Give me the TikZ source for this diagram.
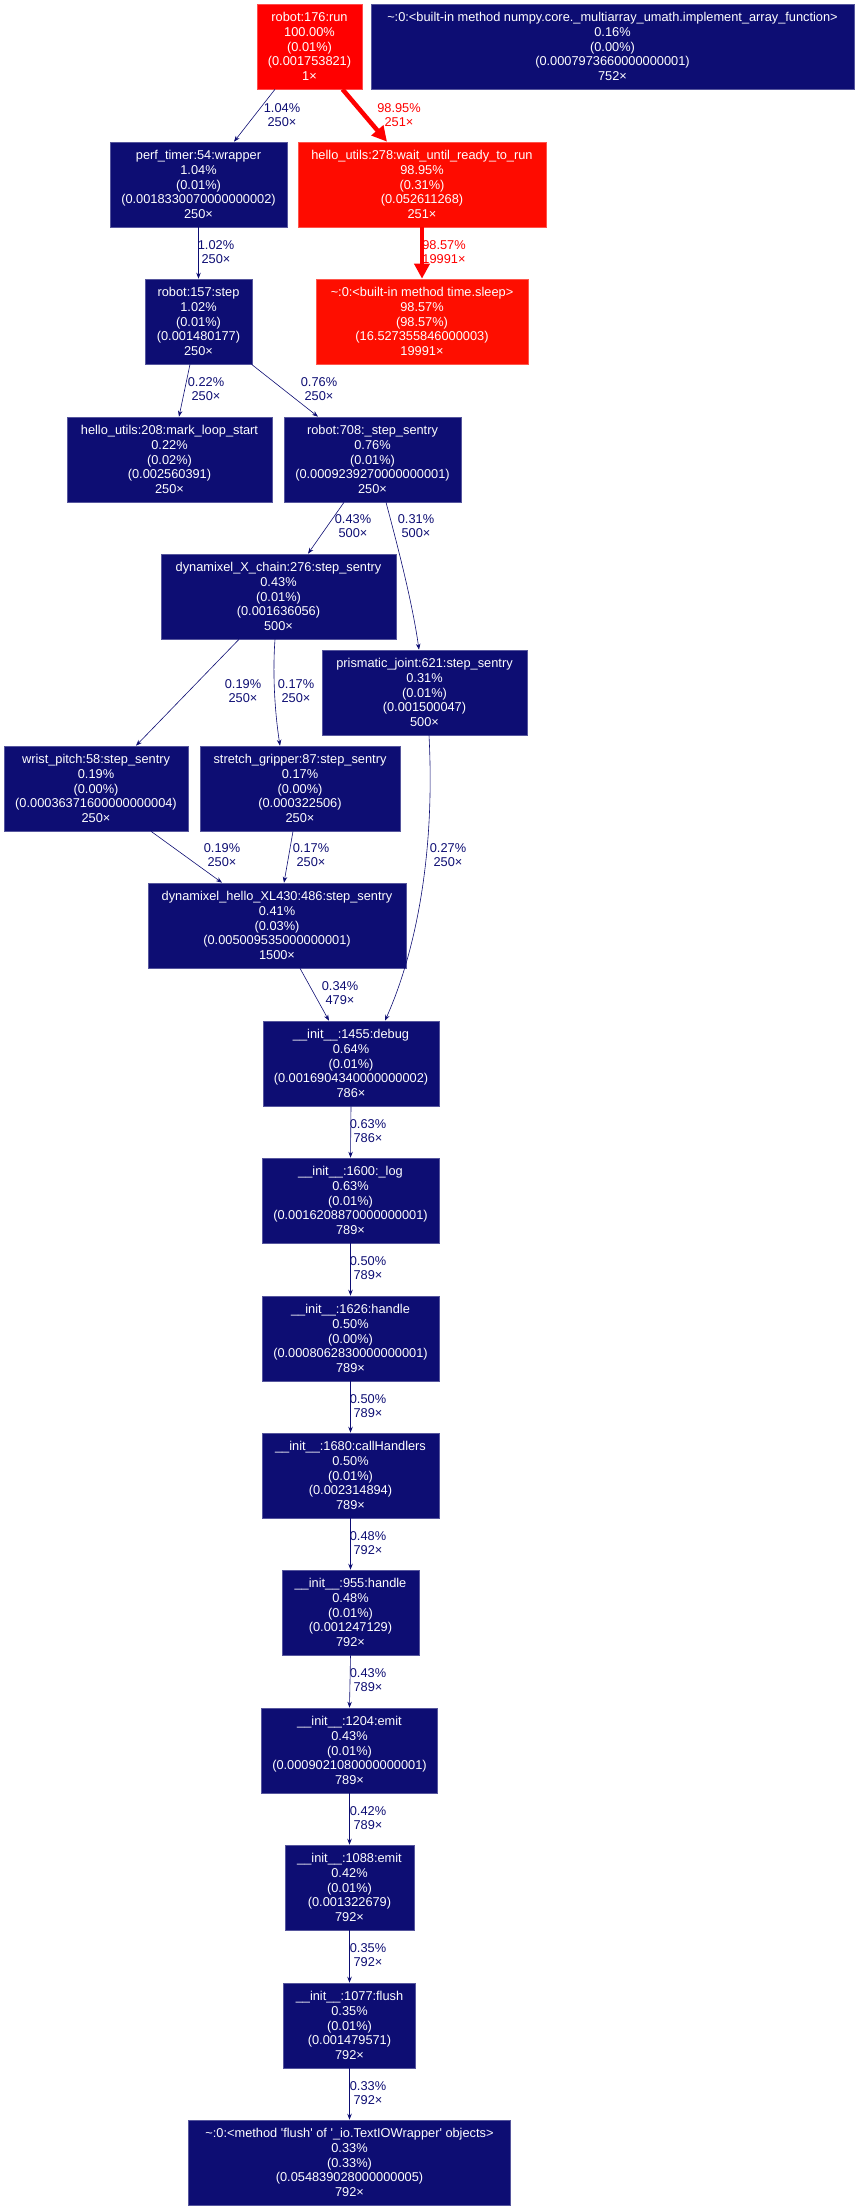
\documentclass[tikz,border=0pt]{standalone}
\usepackage{fontspec}
\setmainfont{Liberation Sans}
\usetikzlibrary{arrows.meta}
\definecolor{navy}{HTML}{0D0D73}
\definecolor{hotA}{HTML}{FF0000}
\definecolor{hotB}{HTML}{FE0B00}
\definecolor{hotC}{HTML}{FE0E00}
\newcommand{\nfont}{\fontsize{12.8}{14.6}\selectfont}
\tikzset{
  fn/.style={rectangle, fill=navy, draw=navy!70!white, line width=0.6pt, text=white,
    align=center, inner sep=0pt, minimum height=85pt, font=\nfont},
  lo/.style={draw=navy, line width=0.6pt, -{Stealth[length=6pt,width=4.5pt]}},
  hi/.style={draw=hotA, line width=4.5pt, -{Triangle[length=15pt,width=15pt]}},
  elab/.style={text=navy, align=center, font=\nfont, inner sep=0pt},
  elabhot/.style={elab, text=hotA},
}
\begin{document}
\begin{tikzpicture}[x=1pt, y=-1pt]
\useasboundingbox (0,0) rectangle (858,2209);
% nodes
\node[fn, minimum width=105pt, fill=hotA, draw=hotA!70!white] (run) at (309.5,46.5)
  {robot:176:run\\100.00\%\\(0.01\%)\\(0.001753821)\\1×};
\node[fn, minimum width=483pt] (numpy) at (612.5,46.5)
  {\textasciitilde:0:<built-in method numpy.core.\_multiarray\_umath.implement\_array\_function>\\0.16\%\\(0.00\%)\\(0.0007973660000000001)\\752×};
\node[fn, minimum width=177pt] (perf) at (198.5,184.5)
  {perf\_timer:54:wrapper\\1.04\%\\(0.01\%)\\(0.0018330070000000002)\\250×};
\node[fn, minimum width=248pt, fill=hotB, draw=hotB!70!white] (h278) at (422,184.5)
  {hello\_utils:278:wait\_until\_ready\_to\_run\\98.95\%\\(0.31\%)\\(0.052611268)\\251×};
\node[fn, minimum width=107pt] (r157) at (198.5,321.5)
  {robot:157:step\\1.02\%\\(0.01\%)\\(0.001480177)\\250×};
\node[fn, minimum width=212pt, fill=hotC, draw=hotC!70!white] (sleep) at (422,321.5)
  {\textasciitilde:0:<built-in method time.sleep>\\98.57\%\\(98.57\%)\\(16.527355846000003)\\19991×};
\node[fn, minimum width=205pt] (h208) at (169.5,459.5)
  {hello\_utils:208:mark\_loop\_start\\0.22\%\\(0.02\%)\\(0.002560391)\\250×};
\node[fn, minimum width=177pt] (r708) at (372.5,459.5)
  {robot:708:\_step\_sentry\\0.76\%\\(0.01\%)\\(0.0009239270000000001)\\250×};
\node[fn, minimum width=235pt] (dynX) at (278.5,596.5)
  {dynamixel\_X\_chain:276:step\_sentry\\0.43\%\\(0.01\%)\\(0.001636056)\\500×};
\node[fn, minimum width=205pt] (prism) at (424.5,692.5)
  {prismatic\_joint:621:step\_sentry\\0.31\%\\(0.01\%)\\(0.001500047)\\500×};
\node[fn, minimum width=184pt] (wrist) at (96,788.5)
  {wrist\_pitch:58:step\_sentry\\0.19\%\\(0.00\%)\\(0.00036371600000000004)\\250×};
\node[fn, minimum width=200pt] (grip) at (300,788.5)
  {stretch\_gripper:87:step\_sentry\\0.17\%\\(0.00\%)\\(0.000322506)\\250×};
\node[fn, minimum width=258pt] (dynH) at (277,925.5)
  {dynamixel\_hello\_XL430:486:step\_sentry\\0.41\%\\(0.03\%)\\(0.005009535000000001)\\1500×};
\node[fn, minimum width=176pt] (debug) at (351,1063.5)
  {\_\_init\_\_:1455:debug\\0.64\%\\(0.01\%)\\(0.0016904340000000002)\\786×};
\node[fn, minimum width=177pt] (log) at (350.5,1200.5)
  {\_\_init\_\_:1600:\_log\\0.63\%\\(0.01\%)\\(0.0016208870000000001)\\789×};
\node[fn, minimum width=177pt] (hA) at (350.5,1338.5)
  {\_\_init\_\_:1626:handle\\0.50\%\\(0.00\%)\\(0.0008062830000000001)\\789×};
\node[fn, minimum width=177pt] (call) at (350.5,1475.5)
  {\_\_init\_\_:1680:callHandlers\\0.50\%\\(0.01\%)\\(0.002314894)\\789×};
\node[fn, minimum width=137pt] (hB) at (350.5,1612.5)
  {\_\_init\_\_:955:handle\\0.48\%\\(0.01\%)\\(0.001247129)\\792×};
\node[fn, minimum width=176pt] (emA) at (349.5,1750.5)
  {\_\_init\_\_:1204:emit\\0.43\%\\(0.01\%)\\(0.0009021080000000001)\\789×};
\node[fn, minimum width=129pt] (emB) at (349.5,1887.5)
  {\_\_init\_\_:1088:emit\\0.42\%\\(0.01\%)\\(0.001322679)\\792×};
\node[fn, minimum width=132pt] (fl) at (349.5,2025.5)
  {\_\_init\_\_:1077:flush\\0.35\%\\(0.01\%)\\(0.001479571)\\792×};
\node[fn, minimum width=322pt] (io) at (349.5,2162.5)
  {\textasciitilde:0:<method \textquotesingle flush\textquotesingle{} of \textquotesingle\_io.TextIOWrapper\textquotesingle{} objects>\\0.33\%\\(0.33\%)\\(0.054839028000000005)\\792×};

% edges
\draw[lo] ([xshift=-34.5pt]run.south) -- ([xshift=35.5pt]perf.north);
\node[elab] (l1) at (282,115) {1.04\%\\250×};
\draw[hi] ([xshift=33pt]run.south) -- ([xshift=-35pt]h278.north);
\node[elabhot] (l2) at (399,115) {98.95\%\\251×};
\draw[lo] (perf.south) -- (r157.north);
\node[elab] (l3) at (216,252) {1.02\%\\250×};
\draw[hi] (h278.south) -- (sleep.north);
\node[elabhot] (l4) at (444,252) {98.57\%\\19991×};
\draw[lo] ([xshift=-8.5pt]r157.south) -- ([xshift=9.5pt]h208.north);
\node[elab] (l5) at (206,389) {0.22\%\\250×};
\draw[lo] ([xshift=53pt]r157.south) -- ([xshift=-54.5pt]r708.north);
\node[elab] (l6) at (319,389) {0.76\%\\250×};
\draw[lo] ([xshift=-28.5pt]r708.south) -- ([xshift=29.5pt]dynX.north);
\node[elab] (l7) at (353,526) {0.43\%\\500×};
\draw[lo] ([xshift=13.5pt]r708.south) .. controls (396,540) and (412,600) .. ([xshift=-5.5pt]prism.north);
\node[elab] (l8) at (416,526) {0.31\%\\500×};
\draw[lo] ([xshift=-39.5pt]dynX.south) -- ([xshift=40pt]wrist.north);
\node[elab] (l9) at (243,691) {0.19\%\\250×};
\draw[lo] ([xshift=-3.5pt]dynX.south) .. controls (272,680) and (276,720) .. ([xshift=-20pt]grip.north);
\node[elab] (l10) at (296,691) {0.17\%\\250×};
\draw[lo] ([xshift=55pt]wrist.south) -- ([xshift=-55pt]dynH.north);
\node[elab] (l11) at (222,855) {0.19\%\\250×};
\draw[lo] ([xshift=-7pt]grip.south) -- ([xshift=7pt]dynH.north);
\node[elab] (l12) at (311,855) {0.17\%\\250×};
\draw[lo] ([xshift=4.5pt]prism.south) .. controls (436,870) and (410,965) .. ([xshift=34pt]debug.north);
\node[elab] (l13) at (448,855) {0.27\%\\250×};
\draw[lo] ([xshift=23pt]dynH.south) -- ([xshift=-22pt]debug.north);
\node[elab] (l14) at (340,993) {0.34\%\\479×};
\draw[lo] (debug.south) -- (log.north);
\node[elab] (l15) at (368,1131) {0.63\%\\786×};
\draw[lo] (log.south) -- (hA.north);
\node[elab] (l16) at (368,1268) {0.50\%\\789×};
\draw[lo] (hA.south) -- (call.north);
\node[elab] (l17) at (368,1406) {0.50\%\\789×};
\draw[lo] (call.south) -- (hB.north);
\node[elab] (l18) at (368,1543) {0.48\%\\792×};
\draw[lo] (hB.south) -- (emA.north);
\node[elab] (l19) at (368,1680) {0.43\%\\789×};
\draw[lo] (emA.south) -- (emB.north);
\node[elab] (l20) at (368,1818) {0.42\%\\789×};
\draw[lo] (emB.south) -- (fl.north);
\node[elab] (l21) at (368,1955) {0.35\%\\792×};
\draw[lo] (fl.south) -- (io.north);
\node[elab] (l22) at (368,2093) {0.33\%\\792×};
\end{tikzpicture}
\end{document}
